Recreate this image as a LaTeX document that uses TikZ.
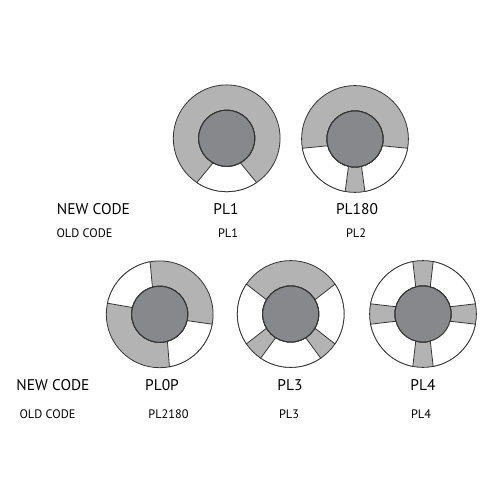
\documentclass[tikz,border=0pt]{standalone}
\usepackage{fontspec}
\setmainfont{PT Sans}
\definecolor{spokegray}{HTML}{B3B3B3}
\definecolor{hubgray}{HTML}{87888B}
\definecolor{rimline}{HTML}{333333}
\tikzset{
  rim/.style={draw=rimline, fill=spokegray, line width=0.45pt},
  gap/.style={draw=rimline, fill=white, line width=0.45pt},
  hub/.style={draw=rimline, fill=hubgray, line width=0.55pt},
  newcode/.style={font=\fontsize{8.8}{10}\selectfont, text=black, inner sep=0pt},
  oldcode/.style={font=\fontsize{7}{8}\selectfont, text=black, inner sep=0pt}
}
\usetikzlibrary{calc}
% white sector: centre, inner angles, outer angles
\newcommand{\gapsector}[5]{
  \draw[gap] ($(#1)+(#2:28)$) -- ($(#1)+(#4:53.4)$) arc[start angle=#4, end angle=#5, radius=53.4] -- ($(#1)+(#3:28)$) -- cycle;
}
\begin{document}
\begin{tikzpicture}[x=0.02cm, y=0.02cm]
  \useasboundingbox (0,0) rectangle (500,500);
  \coordinate (plone) at (226.7,361.7);
  \coordinate (ploneeighty) at (355,361);
  \coordinate (plzero) at (159.7,185.7);
  \coordinate (plthree) at (290.7,186);
  \coordinate (plfour) at (423,186);
  % outer discs
  \foreach \c in {plone,ploneeighty,plzero,plthree,plfour}
    \draw[rim] (\c) circle[radius=53.4];
  % PL1
  \gapsector{plone}{241}{299}{236}{304}
  % PL180
  \gapsector{ploneeighty}{194}{256.5}{190}{259.4}
  \gapsector{ploneeighty}{283.5}{346}{280.6}{350}
  % PL0P
  \gapsector{plzero}{105}{166}{100.4}{168}
  \gapsector{plzero}{286}{347}{280.5}{349.3}
  % PL3
  \gapsector{plthree}{149.6}{210.4}{146}{214}
  \gapsector{plthree}{237.6}{302.4}{235.8}{304.2}
  \gapsector{plthree}{329.6}{390.4}{326}{394}
  % PL4
  \foreach \a in {0,90,180,270}
    \gapsector{plfour}{\a+15}{\a+75}{\a+11}{\a+79}
  % hubs
  \foreach \c in {plone,ploneeighty,plzero,plthree,plfour}
    \draw[hub] (\c) circle[radius=28];
  % labels
  \node[newcode] (newtop) at (93.5,291) {NEW CODE};
  \node[oldcode] (oldtop) at (84.5,267) {OLD CODE};
  \node[newcode] (plonenew) at (226,291) {PL1};
  \node[oldcode] (ploneold) at (228,267) {PL1};
  \node[newcode] (ploneeightynew) at (357,291) {PL180};
  \node[oldcode] (ploneeightyold) at (356,267) {PL2};
  \node[newcode] (newbottom) at (53,115) {NEW CODE};
  \node[oldcode] (oldbottom) at (47.5,86) {OLD CODE};
  \node[newcode] (plzeronew) at (162,115) {PL0P};
  \node[oldcode] (plzeroold) at (168.5,86) {PL2180};
  \node[newcode] (plthreenew) at (290,115) {PL3};
  \node[oldcode] (plthreeold) at (289,86) {PL3};
  \node[newcode] (plfournew) at (423,115) {PL4};
  \node[oldcode] (plfourold) at (421,86) {PL4};
\end{tikzpicture}
\end{document}
